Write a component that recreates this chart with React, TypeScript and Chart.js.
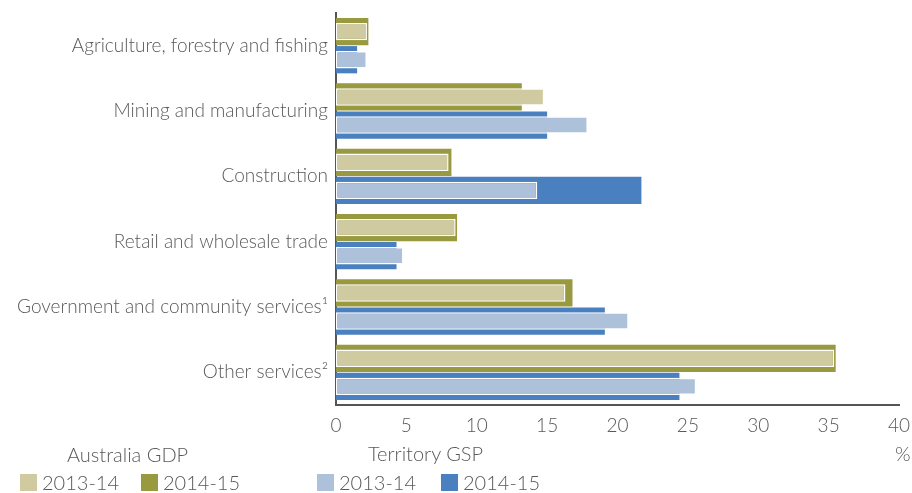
import React, { useEffect, useRef } from 'react';
import { Chart, registerables } from 'chart.js';

Chart.register(...registerables);

// ---- data ----
const categories = [
  'Agriculture, forestry and fishing',
  'Mining and manufacturing',
  'Construction',
  'Retail and wholesale trade',
  'Government and community services\u00B9',
  'Other services\u00B2',
];
const australiaGdp2013 = [2.2, 14.8, 8.0, 8.5, 16.3, 35.4];
const australiaGdp2014 = [2.3, 13.2, 8.2, 8.6, 16.8, 35.5];
const territoryGsp2013 = [2.2, 17.9, 14.3, 4.8, 20.8, 25.6];
const territoryGsp2014 = [1.5, 15.0, 21.7, 4.3, 19.1, 24.4];
const xMin = 0;
const xMax = 40;
const xStep = 5;
const unitLabel = '%';
const groupTitles = ['Australia GDP', 'Territory GSP'];
const legendLabels = ['2013-14', '2014-15', '2013-14', '2014-15'];

// ---- styles ----
const FONT = 'Lato, "Open Sans", sans-serif';
const TEXT = '#595959';
const KHAKI = '#CFCA9F';
const OLIVE = '#999940';
const LIGHTBLUE = '#ADC2DA';
const DARKBLUE = '#4A80BF';
const legendColors = [KHAKI, OLIVE, LIGHTBLUE, DARKBLUE];

export default function App() {
  const ref = useRef<HTMLCanvasElement | null>(null);

  useEffect(() => {
    if (!ref.current) return;
    const front = { barPercentage: 0.62, categoryPercentage: 0.86, borderColor: '#ffffff', borderWidth: 1.5, borderSkipped: false as const };
    const back = { barPercentage: 0.97, categoryPercentage: 0.86, borderWidth: 0 };
    const chart = new Chart(ref.current, {
      type: 'bar',
      data: {
        labels: categories,
        datasets: [
          { label: 'Australia GDP 2013-14', data: australiaGdp2013, backgroundColor: KHAKI, stack: 'au', ...front },
          { label: 'Australia GDP 2014-15', data: australiaGdp2014, backgroundColor: OLIVE, stack: 'au', ...back },
          { label: 'Territory GSP 2013-14', data: territoryGsp2013, backgroundColor: LIGHTBLUE, stack: 'tg', ...front },
          { label: 'Territory GSP 2014-15', data: territoryGsp2014, backgroundColor: DARKBLUE, stack: 'tg', ...back },
        ],
      },
      options: {
        indexAxis: 'y',
        animation: false,
        responsive: false,
        maintainAspectRatio: false,
        devicePixelRatio: 1,
        layout: { padding: { top: 13, right: 13, left: 0, bottom: 0 } },
        plugins: { legend: { display: false }, tooltip: { enabled: false } },
        scales: {
          x: {
            type: 'linear',
            stacked: false,
            min: xMin,
            max: xMax,
            ticks: {
              stepSize: xStep,
              color: TEXT,
              padding: 9,
              font: { family: FONT, size: 19, weight: '300' as any },
              maxRotation: 0,
            },
            grid: { display: false, drawTicks: false },
            border: { display: true, color: '#555555', width: 2 },
            afterFit: (s: any) => { s.height = 88; s.paddingLeft = 0; s.paddingRight = 0; },
          },
          y: {
            type: 'category',
            ticks: {
              color: TEXT,
              padding: 8,
              font: { family: FONT, size: 19, weight: '300' as any },
            },
            grid: { display: false, drawTicks: false },
            border: { display: true, color: '#555555', width: 2 },
            afterFit: (s: any) => { s.width = 336; s.paddingTop = 0; s.paddingBottom = 0; },
          },
        },
      },
    });
    return () => chart.destroy();
  }, []);

  const txt: React.CSSProperties = {
    position: 'absolute',
    fontFamily: FONT,
    fontWeight: 300,
    fontSize: 20,
    color: TEXT,
    lineHeight: '24px',
    height: 24,
    whiteSpace: 'nowrap',
  };
  const boxLefts = [20, 141, 317, 441];

  return (
    <div style={{ position: 'fixed', left: 0, top: 0, width: 912, height: 493, background: '#fff', overflow: 'hidden' }}>
      <canvas ref={ref} width={912} height={493} style={{ display: 'block', width: 912, height: 493 }} />
      <div style={{ ...txt, left: 67, top: 442 }}>{groupTitles[0]}</div>
      <div style={{ ...txt, left: 368, top: 441 }}>{groupTitles[1]}</div>
      <div style={{ ...txt, left: 895, top: 441 }}>{unitLabel}</div>
      {legendLabels.map((l, i) => (
        <React.Fragment key={i}>
          <div style={{ position: 'absolute', left: boxLefts[i], top: 474, width: 17, height: 17, background: legendColors[i] }} />
          <div style={{ ...txt, left: boxLefts[i] + 22, top: 470 }}>{l}</div>
        </React.Fragment>
      ))}
    </div>
  );
}
